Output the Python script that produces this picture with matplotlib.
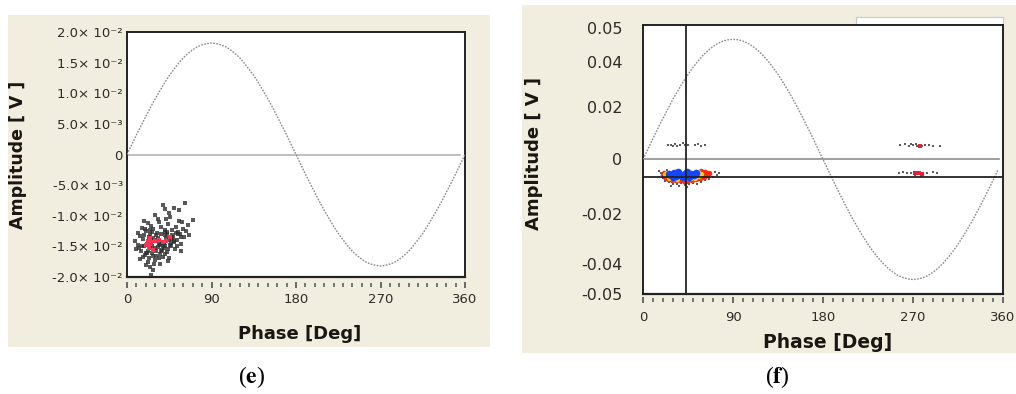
import matplotlib
matplotlib.use("Agg")
import matplotlib.pyplot as plt
from matplotlib.patches import Rectangle
import numpy as np

# ---------------- data ----------------
phase_deg = list(range(0, 361, 5))

left_sine_mv = [0, 1.6, 3.2, 4.7, 6.2, 7.7, 9.1, 10.4, 11.7, 12.9, 13.9, 14.9, 15.8, 16.5, 17.1, 17.6, 17.9, 18.1,
                18.2, 18.1, 17.9, 17.6, 17.1, 16.5, 15.8, 14.9, 13.9, 12.9, 11.7, 10.4, 9.1, 7.7, 6.2, 4.7, 3.2, 1.6,
                0, -1.6, -3.2, -4.7, -6.2, -7.7, -9.1, -10.4, -11.7, -12.9, -13.9, -14.9, -15.8, -16.5, -17.1, -17.6, -17.9, -18.1,
                -18.2, -18.1, -17.9, -17.6, -17.1, -16.5, -15.8, -14.9, -13.9, -12.9, -11.7, -10.4, -9.1, -7.7, -6.2, -4.7, -3.2, -1.6, 0]

right_sine_mv = [0, 3.9, 7.8, 11.6, 15.3, 18.9, 22.4, 25.6, 28.7, 31.6, 34.2, 36.6, 38.7, 40.5, 42.0, 43.2, 44.0, 44.5,
                 44.7, 44.5, 44.0, 43.2, 42.0, 40.5, 38.7, 36.6, 34.2, 31.6, 28.7, 25.6, 22.4, 18.9, 15.3, 11.6, 7.8, 3.9,
                 0, -3.9, -7.8, -11.6, -15.3, -18.9, -22.4, -25.6, -28.7, -31.6, -34.2, -36.6, -38.7, -40.5, -42.0, -43.2, -44.0, -44.5,
                 -44.7, -44.5, -44.0, -43.2, -42.0, -40.5, -38.7, -36.6, -34.2, -31.6, -28.7, -25.6, -22.4, -18.9, -15.3, -11.6, -7.8, -3.9]
right_sine_phase = phase_deg[:len(right_sine_mv)]

# left (e) cluster: phase [deg], amplitude [mV]
e_gray_phase = [38, 62, 70, 55, 45, 30, 50, 65, 12, 8, 10, 14, 20, 28, 26, 35, 45, 58, 66, 60, 40, 33, 22, 18,
                20, 24, 28, 32, 36, 40, 44, 48, 52, 56, 17, 21, 25, 29, 33, 37, 41, 45, 49, 53, 57, 61,
                15, 19, 23, 27, 31, 35, 39, 43, 47, 51, 22, 30, 38, 26, 34, 42, 46, 16, 55, 59, 63, 12, 18, 44, 24, 36, 28, 40,
                14, 27, 33, 48, 54, 37, 21, 31, 43, 50, 19, 25, 35, 41, 47, 29,
                16, 22, 26, 30, 34, 38, 42, 46, 50, 54, 18, 24, 32, 36, 44, 52, 20, 28, 40, 48, 58, 13, 17, 23, 27, 31, 39, 43, 53, 34]
e_gray_mv = [-8.2, -7.9, -10.7, -9.0, -9.5, -9.8, -8.8, -11.5, -12.8, -14.2, -15.5, -17.0, -18.0, -18.9, -19.6, -17.8, -16.9, -15.8, -13.2, -12.2, -8.9, -10.5, -11.2, -10.9,
             -12.5, -13.0, -12.2, -12.8, -11.9, -12.6, -11.4, -12.3, -11.8, -12.9, -13.8, -14.6, -15.3, -14.1, -13.7, -14.4, -13.2, -14.0, -13.5, -13.9, -14.6, -13.4,
             -15.8, -16.4, -16.9, -16.1, -15.7, -16.3, -15.2, -15.9, -15.0, -15.5, -17.5, -17.2, -16.8, -11.6, -11.1, -10.6, -10.2, -12.0, -10.9, -11.0, -12.5, -14.8, -15.0, -17.4, -18.3, -13.0, -13.6, -14.9,
             -13.3, -12.7, -15.1, -13.1, -12.6, -15.6, -16.0, -16.6, -12.9, -14.3, -12.1, -14.0, -14.7, -16.2, -14.4, -17.9,
             -14.9, -15.7, -14.0, -15.3, -14.6, -15.0, -13.7, -14.8, -14.2, -13.0, -13.1, -12.4, -13.9, -15.8, -15.4, -12.8, -16.0, -16.6, -12.3, -13.8, -13.5, -15.2, -16.8, -13.5, -14.9, -13.2, -14.5, -12.7, -14.9, -16.9]
e_red_phase = [22, 24, 26, 30, 34, 38, 42, 23, 25, 28, 46, 20]
e_red_mv = [-14.2, -14.6, -14.3, -14.2, -14.0, -14.3, -14.1, -15.2, -13.6, -15.6, -13.4, -14.8]

# right (f) clusters
f_black_phase = [18, 20, 22, 26, 30, 34, 38, 42, 46, 50, 54, 58, 62, 66, 70, 74, 76, 72, 16, 28, 44, 36, 60, 24,
                 25, 28, 32, 34, 37, 40, 42, 45, 52, 55, 58, 62, 30,
                 257, 262, 266, 270, 273, 276, 279, 282, 286, 290, 297, 268, 274,
                 256, 260, 264, 268, 271, 274, 277, 280, 284, 290, 294, 272, 278]
f_black_mv = [-5.2, -6.8, -8.0, -8.6, -9.0, -9.3, -8.8, -9.6, -9.1, -8.7, -9.0, -8.4, -7.8, -7.2, -6.5, -5.8, -5.1, -4.6, -4.3, -10.0, -10.2, -9.9, -4.2, -4.0,
              5.5, 5.2, 5.6, 5.0, 5.4, 6.0, 5.2, 5.3, 5.4, 5.8, 5.0, 5.2, 4.9,
              5.3, 5.6, 5.1, 5.4, 5.8, 5.2, 5.0, 5.3, 5.5, 5.0, 5.1, 5.9, 4.9,
              -5.0, -4.8, -5.2, -4.9, -5.5, -5.0, -5.6, -4.9, -5.1, -4.8, -5.0, -6.0, -6.1]
f_red_phase = [20, 22, 25, 29, 33, 37, 41, 45, 49, 53, 57, 61, 64, 66, 62, 58, 21, 44]
f_red_mv = [-5.9, -6.6, -7.3, -7.6, -7.8, -7.5, -7.9, -7.6, -7.8, -7.3, -7.0, -6.6, -6.0, -5.2, -4.8, -4.5, -4.9, -8.2]
f_red270_phase = [277, 272, 276, 279]
f_red270_mv = [5.1, -5.0, -4.9, -5.3]
f_yellow_phase = [22, 26, 30, 48, 52, 56, 58, 55, 34, 24, 40, 44]
f_yellow_mv = [-5.6, -6.8, -7.0, -7.1, -6.8, -6.2, -5.5, -4.8, -7.2, -5.0, -7.1, -7.0]
f_blue_phase = [26, 28, 31, 33, 36, 39, 42, 45, 48, 51, 53, 30, 40, 46, 35, 44]
f_blue_mv = [-5.4, -6.0, -5.2, -6.3, -5.6, -6.1, -5.3, -5.9, -5.4, -5.9, -5.1, -6.4, -6.6, -6.5, -4.8, -4.8]

f_cursor_phase = 42.7
f_cursor_mv = -6.7

x_ticks = [0, 90, 180, 270, 360]
e_yticks = [0.02, 0.015, 0.01, 0.005, 0, -0.005, -0.01, -0.015, -0.02]
e_ylabels = ["2.0\u00d7 10\u207b\u00b2", "1.5\u00d7 10\u207b\u00b2", "1.0\u00d7 10\u207b\u00b2", "5.0\u00d7 10\u207b\u00b3", "0",
             "-5.0\u00d7 10\u207b\u00b3", "-1.0\u00d7 10\u207b\u00b2", "-1.5\u00d7 10\u207b\u00b2", "-2.0\u00d7 10\u207b\u00b2"]
f_yticks = [0.0488, 0.0361, 0.0196, 0, -0.0204, -0.0390, -0.0501]
f_ylabels = ["0.05", "0.04", "0.02", "0", "-0.02", "-0.04", "-0.05"]

# ---------------- figure ----------------
W, H = 1016, 394
fig = plt.figure(figsize=(W / 100, H / 100), dpi=100)
fig.patch.set_facecolor("white")

beige = "#f1eedf"
tick_col = "#2e2a26"
lab_col = "#1a1612"

def fx(px):
    return px / W

def fy(py):
    return 1 - py / H

bg_e = Rectangle((fx(8), fy(347)), fx(490) - fx(8), fy(15) - fy(347), transform=fig.transFigure,
                 facecolor=beige, edgecolor="none", zorder=-5)
bg_f = Rectangle((fx(522), fy(353)), fx(1016) - fx(522), fy(5) - fy(353), transform=fig.transFigure,
                 facecolor=beige, edgecolor="none", zorder=-5)
fig.patches.extend([bg_e, bg_f])

# small white legend stub at top right of (f)
stub = Rectangle((fx(856), fy(25)), fx(1003) - fx(856), fy(17) - fy(25), transform=fig.transFigure,
                 facecolor="white", edgecolor="#c8c8c8", lw=0.8, zorder=-4)
fig.patches.append(stub)

def setup_axes(ax, offset_pt, major_len, minor_len, xlab_pad):
    ax.set_zorder(3)
    for s in ["left", "top", "right"]:
        ax.spines[s].set_color("#222222")
        ax.spines[s].set_linewidth(1.4)
    ax.spines["bottom"].set_visible(False)
    ax.spines["bottom"].set_position(("outward", offset_pt))
    ax.axhline(ax.get_ylim()[0], color="#222222", lw=1.6, clip_on=False, zorder=5)
    ax.set_xlim(0, 360)
    ax.set_xticks(x_ticks)
    ax.set_xticks(list(range(0, 361, 10)), minor=True)
    ax.tick_params(axis="x", which="major", direction="inout", length=major_len, width=1.1,
                   color="#444444", labelsize=9.5, labelcolor=tick_col, pad=xlab_pad)
    ax.tick_params(axis="x", which="minor", direction="inout", length=minor_len, width=1.1, color="#555555")
    ax.tick_params(axis="y", length=0)

# ---------- panel (e) ----------
ax1 = fig.add_axes([fx(127), fy(277), fx(465) - fx(127), fy(32) - fy(277)])
ax1.set_facecolor("white")
ax1.set_ylim(-0.02, 0.02)
setup_axes(ax1, 6, 5, 2.5, 3)
ax1.set_yticks(e_yticks)
ax1.set_yticklabels(e_ylabels)
ax1.tick_params(axis="y", labelsize=9.5, labelcolor=tick_col, pad=3)

ax1.plot([0, 355], [0, 0], color="#b4b4b4", lw=1.2, zorder=2)
ax1.plot(phase_deg, np.array(left_sine_mv) / 1000, color="#8a8a8a", lw=1.0, ls=(0, (1.2, 1.0)), zorder=3)
ax1.scatter(e_gray_phase, np.array(e_gray_mv) / 1000, s=6, marker="s", color="#303030", alpha=0.8, lw=0, zorder=4)
ax1.scatter(e_red_phase, np.array(e_red_mv) / 1000, s=6, marker="s", color="#ff3050", lw=0, zorder=5)

# ---------- panel (f) ----------
ax2 = fig.add_axes([fx(643), fy(294), fx(1003) - fx(643), fy(25) - fy(294)])
ax2.set_facecolor("white")
ax2.set_ylim(-0.05, 0.05)
setup_axes(ax2, 4.5, 5, 2.5, 5)
ax2.set_yticks(f_yticks)
ax2.set_yticklabels(f_ylabels)
ax2.tick_params(axis="y", labelsize=11.5, labelcolor=tick_col, pad=15)

ax2.plot([0, 356], [0, 0], color="#8e8e8e", lw=1.2, zorder=2)
ax2.plot(right_sine_phase, np.array(right_sine_mv) / 1000, color="#8a8a8a", lw=1.0, ls=(0, (1.2, 1.0)), zorder=3)
ax2.scatter(f_black_phase, np.array(f_black_mv) / 1000, s=4, marker="s", color="#333333", alpha=0.8, lw=0, zorder=4)
ax2.scatter(f_red_phase, np.array(f_red_mv) / 1000, s=16, marker="o", color="#ff2a10", lw=0, zorder=5)
ax2.scatter(f_red270_phase, np.array(f_red270_mv) / 1000, s=5, marker="s", color="#e8203a", lw=0, zorder=5)
ax2.scatter(f_yellow_phase, np.array(f_yellow_mv) / 1000, s=14, marker="o", color="#ffd21a", lw=0, zorder=6)
ax2.scatter(f_blue_phase, np.array(f_blue_mv) / 1000, s=30, marker="o", color="#1446ff", lw=0, zorder=7)
ax2.axvline(f_cursor_phase, color="#222222", lw=1.3, zorder=8)
ax2.axhline(f_cursor_mv / 1000, color="#222222", lw=1.3, zorder=8)

# ---------- axis labels ----------
t1 = fig.text(fx(300), fy(334), "Phase [Deg]", ha="center", va="center", fontsize=13, fontweight="bold", color=lab_col)
t1.set_clip_path(bg_e)
t2 = fig.text(fx(828), fy(342), "Phase [Deg]", ha="center", va="center", fontsize=13.5, fontweight="bold", color=lab_col)
t2.set_clip_path(bg_f)
fig.text(fx(18), fy(155), "Amplitude [ V ]", ha="center", va="center", rotation=90, fontsize=12.5,
         fontweight="bold", color=lab_col)
fig.text(fx(534), fy(153), "Amplitude [ V ]", ha="center", va="center", rotation=90, fontsize=13,
         fontweight="bold", color=lab_col)

# ---------- captions ----------
plt.rcParams["mathtext.fontset"] = "stix"
fig.text(fx(252), fy(377), r"($\mathbf{e}$)", ha="center", va="center", fontsize=17,
         family="Liberation Serif", color="black")
fig.text(fx(777), fy(377), r"($\mathbf{f}$)", ha="center", va="center", fontsize=17,
         family="Liberation Serif", color="black")

fig.savefig("out.png", dpi=100, facecolor="white")
